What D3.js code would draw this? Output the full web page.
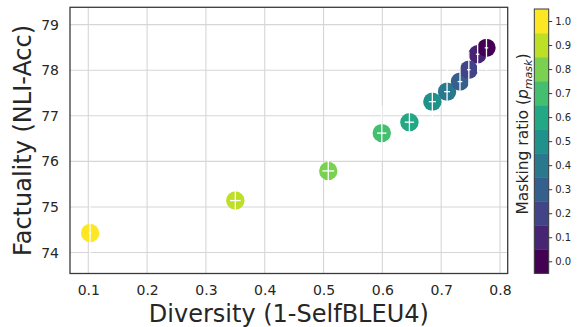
<!DOCTYPE html>
<html>
<head>
<meta charset="utf-8">
<script src="https://cdn.jsdelivr.net/npm/d3@7/dist/d3.min.js"></script>
<style>
  html, body { margin: 0; padding: 0; background: #fff; }
  svg { display: block; font-family: "DejaVu Sans", sans-serif; }
</style>
</head>
<body>
<svg id="chart" width="577" height="327"></svg>
<script>
// Masking ratio sweep: diversity vs. factuality
const maskRatio  = [1.0, 0.9, 0.8, 0.7, 0.6, 0.5, 0.4, 0.3, 0.2, 0.1, 0.0];
const diversity  = [0.103, 0.350, 0.508, 0.599, 0.646, 0.685, 0.710, 0.732, 0.747, 0.762, 0.777];
const factuality = [74.43, 75.14, 75.79, 76.62, 76.86, 77.31, 77.53, 77.75, 78.01, 78.35, 78.49];
const diversityErr  = [0.002, 0.009, 0.010, 0.008, 0.008, 0.006, 0.005, 0.004, 0.003, 0.003, 0.003];
const factualityErr = [0.60, 0.30, 0.40, 0.60, 0.30, 0.40, 0.50, 0.40, 0.40, 0.40, 0.50];

const xTicks = [0.1, 0.2, 0.3, 0.4, 0.5, 0.6, 0.7, 0.8];
const yTicks = [74, 75, 76, 77, 78, 79];
const cbarTicks = [0.0, 0.1, 0.2, 0.3, 0.4, 0.5, 0.6, 0.7, 0.8, 0.9, 1.0];

const textColor = "#262626";
const gridColor = "#d6d6d6";
const spineColor = "#3a3a3a";

const svg = d3.select("#chart");
const plot = { left: 70, right: 507.7, top: 7.3, bottom: 273.5 };

const x = d3.scaleLinear().domain([0.0689, 0.8131]).range([plot.left, plot.right]);
const y = d3.scaleLinear().domain([73.54, 79.38]).range([plot.bottom, plot.top]);

// 11-level discrete viridis
const nLevels = cbarTicks.length;
const color = v => d3.interpolateViridis(Math.round(v * 10) / 10);

// grid
const g = svg.append("g");
g.append("g").selectAll("line").data(xTicks).join("line")
  .attr("x1", d => x(d)).attr("x2", d => x(d))
  .attr("y1", plot.top).attr("y2", plot.bottom)
  .attr("stroke", gridColor).attr("stroke-width", 1.1);
g.append("g").selectAll("line").data(yTicks).join("line")
  .attr("x1", plot.left).attr("x2", plot.right)
  .attr("y1", d => y(d)).attr("y2", d => y(d))
  .attr("stroke", gridColor).attr("stroke-width", 1.1);

// axes tick labels (no visible tick marks)
const xAxis = d3.axisBottom(x).tickValues(xTicks).tickFormat(d3.format(".1f")).tickSize(0).tickPadding(12);
const yAxis = d3.axisLeft(y).tickValues(yTicks).tickFormat(d3.format("d")).tickSize(0).tickPadding(11);
const gx = svg.append("g").attr("transform", `translate(0,${plot.bottom})`).call(xAxis);
const gy = svg.append("g").attr("transform", `translate(${plot.left},0)`).call(yAxis);
[gx, gy].forEach(a => {
  a.select(".domain").remove();
  a.selectAll("text").attr("fill", textColor).style("font-size", "14px")
    .style("font-family", "'DejaVu Sans', sans-serif");
});

// points
const pts = maskRatio.map((m, i) => ({
  m, x: diversity[i], y: factuality[i], ex: diversityErr[i], ey: factualityErr[i]
}));
svg.append("g").selectAll("circle").data(pts).join("circle")
  .attr("cx", d => x(d.x)).attr("cy", d => y(d.y)).attr("r", 9.2)
  .attr("fill", d => color(d.m));

// white error bars on top of the markers
const eb = svg.append("g").attr("stroke", "#fff").attr("stroke-width", 1.3);
eb.selectAll("line.v").data(pts).join("line").attr("class", "v")
  .attr("x1", d => x(d.x)).attr("x2", d => x(d.x))
  .attr("y1", d => y(d.y - d.ey)).attr("y2", d => y(d.y + d.ey));
eb.selectAll("line.h").data(pts).join("line").attr("class", "h")
  .attr("x1", d => x(d.x - d.ex)).attr("x2", d => x(d.x + d.ex))
  .attr("y1", d => y(d.y)).attr("y2", d => y(d.y));

// frame
svg.append("rect")
  .attr("x", plot.left).attr("y", plot.top)
  .attr("width", plot.right - plot.left).attr("height", plot.bottom - plot.top)
  .attr("fill", "none").attr("stroke", spineColor).attr("stroke-width", 1.3);

// axis titles
svg.append("text")
  .attr("x", (plot.left + plot.right) / 2).attr("y", 321.5)
  .attr("text-anchor", "middle").attr("fill", textColor)
  .style("font-size", "24px").text("Diversity (1-SelfBLEU4)");
svg.append("text")
  .attr("transform", `translate(30.5,${(plot.top + plot.bottom) / 2}) rotate(-90)`)
  .attr("text-anchor", "middle").attr("fill", textColor)
  .style("font-size", "24px").text("Factuality (NLI-Acc)");

// colorbar
const cb = { left: 534.3, right: 548.7, top: 9, bottom: 273.3 };
const cbY = d3.scaleLinear().domain([-0.05, 1.05]).range([cb.bottom, cb.top]);
const cbg = svg.append("g");
cbg.selectAll("rect").data(cbarTicks).join("rect")
  .attr("x", cb.left).attr("width", cb.right - cb.left)
  .attr("y", d => cbY(d + 0.05)).attr("height", d => cbY(d - 0.05) - cbY(d + 0.05) + 0.4)
  .attr("fill", d => color(d));
cbg.append("rect")
  .attr("x", cb.left).attr("y", cb.top)
  .attr("width", cb.right - cb.left).attr("height", cb.bottom - cb.top)
  .attr("fill", "none").attr("stroke", spineColor).attr("stroke-width", 1);
const cbAxis = d3.axisRight(cbY).tickValues(cbarTicks).tickFormat(d3.format(".1f")).tickSize(3.5).tickPadding(3);
const gcb = svg.append("g").attr("transform", `translate(${cb.right},0)`).call(cbAxis);
gcb.select(".domain").remove();
gcb.selectAll("line").attr("stroke", spineColor);
gcb.selectAll("text").attr("fill", textColor).style("font-size", "10px")
  .style("font-family", "'DejaVu Sans', sans-serif");

// colorbar title with subscript
const cbt = svg.append("text")
  .attr("transform", `translate(528,134) rotate(-90)`)
  .attr("text-anchor", "middle").attr("fill", textColor)
  .style("font-size", "15.5px");
cbt.append("tspan").text("Masking ratio (");
cbt.append("tspan").style("font-style", "italic").text("p");
cbt.append("tspan").attr("dy", 3.5).style("font-size", "11px").style("font-style", "italic").text("mask");
cbt.append("tspan").attr("dy", -3.5).text(")");
</script>
</body>
</html>
